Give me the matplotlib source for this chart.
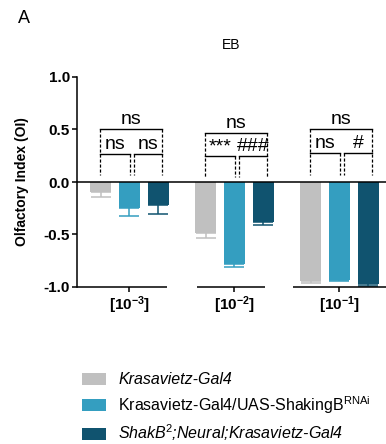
import numpy as np
import matplotlib
matplotlib.use("Agg")
import matplotlib.pyplot as plt
from matplotlib.patches import Patch

plt.rcParams['font.family'] = ['Liberation Sans', 'DejaVu Sans']
plt.rcParams['mathtext.fontset'] = 'custom'
plt.rcParams['mathtext.rm'] = 'Liberation Sans'
plt.rcParams['mathtext.it'] = 'Liberation Sans:italic'
plt.rcParams['mathtext.bf'] = 'Liberation Sans:bold'
plt.rcParams['axes.unicode_minus'] = False

# data
concentrations = [r"$\mathbf{[10^{-3}]}$", r"$\mathbf{[10^{-2}]}$", r"$\mathbf{[10^{-1}]}$"]
genotypes = ["Krasavietz-Gal4",
             r"Krasavietz-Gal4/UAS-ShakingB$^{\mathrm{RNAi}}$",
             r"ShakB$^{2}$;Neural;Krasavietz-Gal4"]
italic_label = [True, False, True]
colors = ["#c0c0c0", "#349ec0", "#10536f"]

oi_kras = [-0.095, -0.49, -0.945]
oi_rnai = [-0.25, -0.78, -0.93]
oi_shakb = [-0.22, -0.38, -0.975]
sem_kras = [0.045, 0.04, 0.02]
sem_rnai = [0.07, 0.03, 0.015]
sem_shakb = [0.085, 0.03, 0.015]

# significance labels per concentration: (overall, left pair, right pair)
sig_top = ["ns", "ns", "ns"]
sig_left = ["ns", "***", "ns"]
sig_right = ["ns", "###", "#"]
top_y = [0.50, 0.47, 0.50]
inner_y = [0.27, 0.25, 0.28]
foot_y = [0.07, 0.05, 0.07]

fig = plt.figure(figsize=(3.86, 4.44), dpi=100)
ax = fig.add_axes([77/386, 157/444, 309/386, 210/444])

x = np.arange(len(concentrations))
off = 0.272
width = 0.2
series = [(oi_kras, sem_kras), (oi_rnai, sem_rnai), (oi_shakb, sem_shakb)]
for i, (vals, sems) in enumerate(series):
    xs = x + (i - 1) * off
    ax.bar(xs, vals, width=width, color=colors[i], zorder=2)
    ax.errorbar(xs, vals, yerr=[sems, np.zeros(len(sems))], fmt='none',
                ecolor=colors[i], elinewidth=1.1, capsize=7, capthick=1.1, zorder=1)

ax.axhline(0, color='black', lw=1.1, zorder=3)

# significance brackets
for g in range(len(x)):
    l = x[g] - 0.28
    r = x[g] + 0.31
    m1 = x[g] + 0.005
    m2 = x[g] + 0.045
    ax.plot([l, r], [top_y[g], top_y[g]], color='black', lw=1.0)
    ax.plot([l, m1], [inner_y[g], inner_y[g]], color='black', lw=1.0)
    ax.plot([m2, r], [inner_y[g], inner_y[g]], color='black', lw=1.0)
    for xv, ytop in [(l, top_y[g]), (r, top_y[g]), (m1, inner_y[g]), (m2, inner_y[g])]:
        ax.plot([xv, xv], [ytop, foot_y[g]], color='black', lw=0.9, ls=(0, (2.5, 1.5)))
    ax.text((l + r) / 2, top_y[g] + 0.01, sig_top[g], ha='center', va='bottom', fontsize=14)
    ax.text((l + m1) / 2, inner_y[g] + 0.005, sig_left[g], ha='center', va='bottom', fontsize=14)
    ax.text((m2 + r) / 2, inner_y[g] + 0.005, sig_right[g], ha='center', va='bottom', fontsize=14)

ax.set_xlim(-0.5, 2.443)
ax.set_ylim(-1.0, 1.0)
ax.set_yticks([-1.0, -0.5, 0.0, 0.5, 1.0])
ax.set_yticklabels(["-1.0", "-0.5", "0.0", "0.5", "1.0"], fontweight='bold', fontsize=11)
ax.set_xticks(x)
ax.set_xticklabels(concentrations, fontsize=11)
ax.tick_params(axis='both', length=3.6, width=1.1, pad=1.5)
ax.tick_params(axis='x', pad=2)

for s in ['top', 'right', 'bottom']:
    ax.spines[s].set_visible(False)
ax.spines['left'].set_linewidth(1.1)

# broken x axis, one piece per concentration
segments = [(-0.5, 0.357), (0.645, 1.286), (1.557, 2.443)]
for a, b in segments:
    ax.plot([a, b], [-1.0, -1.0], color='black', lw=1.1, clip_on=False, solid_capstyle='butt')

ax.set_ylabel("Olfactory Index (OI)", fontweight='bold', fontsize=10)
ax.yaxis.set_label_coords(-0.155, 0.5)
ax.set_title("EB", fontsize=10, pad=20)

fig.text(0.047, 0.958, "A", fontsize=13, va='center', ha='left')

handles = [Patch(facecolor=c, edgecolor='none') for c in colors]
leg = fig.legend(handles, genotypes, loc='upper left', bbox_to_anchor=(76/386, 1 - 366/444),
                 frameon=False, fontsize=11.5, handlelength=1.45, handleheight=0.8,
                 handletextpad=0.8, labelspacing=0.42, borderaxespad=0)
for t, it in zip(leg.get_texts(), italic_label):
    if it:
        t.set_style('italic')

fig.savefig("out.png", dpi=100)
